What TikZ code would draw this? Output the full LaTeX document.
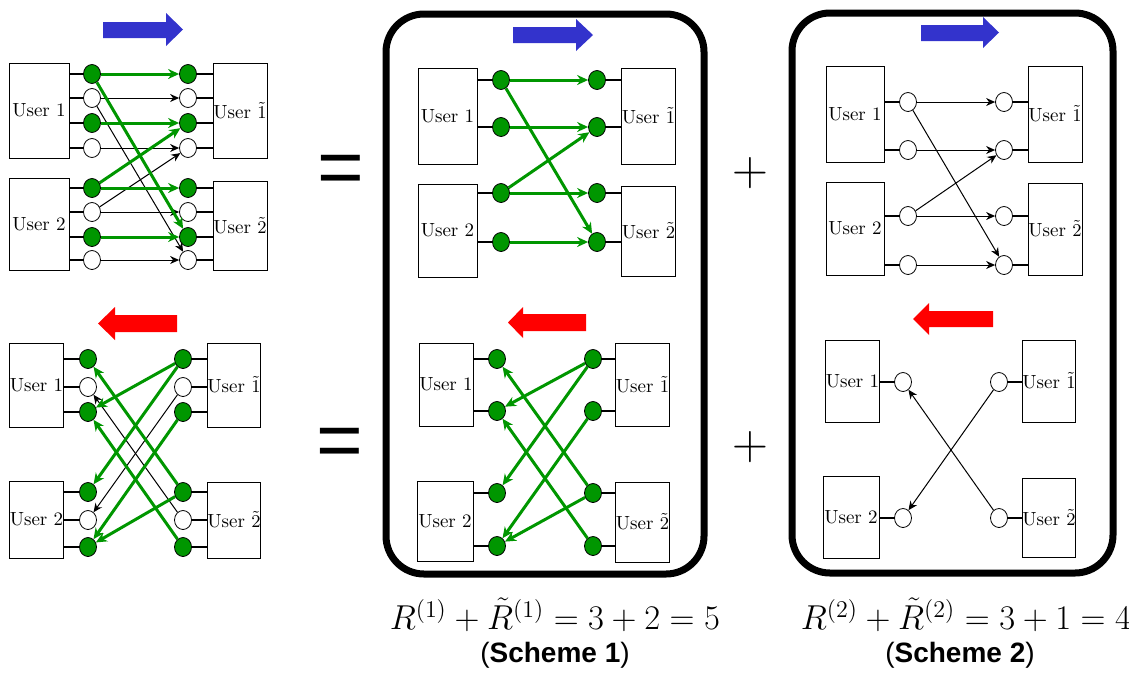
\documentclass[tikz,border=0pt]{standalone}
\usepackage{fontspec}
\newfontfamily\headfont{Liberation Sans}
\usetikzlibrary{shapes.geometric,arrows.meta}
\definecolor{grn}{RGB}{0,150,0}
\definecolor{fwdblue}{RGB}{51,51,204}
\definecolor{bwdred}{RGB}{255,0,0}
\tikzset{
  ubox/.style={draw, line width=0.5pt, inner sep=0pt, font=\fontsize{9.5}{11}\selectfont},
  gdot/.style={ellipse, draw, fill=grn, line width=0.4pt, minimum width=8.5pt, minimum height=9.5pt, inner sep=0pt},
  wdot/.style={gdot, fill=white},
  stub/.style={line width=1.2pt},
  garrow/.style={draw=grn, line width=1.5pt, -{Stealth[length=5.5pt,width=5pt]}},
  karrow/.style={line width=0.5pt, -{Stealth[length=4.5pt,width=4pt]}},
  scheme/.style={rounded corners=19pt, line width=3.5pt},
  bigsign/.style={inner sep=0pt},
  rate/.style={inner sep=0pt, font=\fontsize{17}{20}\selectfont},
  schemename/.style={inner sep=0pt, font=\headfont\fontsize{14}{16}\selectfont}
}
\begin{document}
\begin{tikzpicture}[x=0.5pt,y=-0.5pt]
\useasboundingbox (0,0) rectangle (1129,676);

% ---- all links, forward
\fill[fwdblue] (103,22) -- (166,22) -- (166,13) -- (183,29.5) -- (166,46) -- (166,38) -- (103,38) -- cycle;
\node[ubox, minimum width=30pt, minimum height=47.5pt] (a-u1) at (39,110.5) {User 1};
\node[ubox, minimum width=27pt, minimum height=47.5pt] (a-ut1) at (240,110.5) {User $\tilde{1}$};
\node[ubox, minimum width=30pt, minimum height=46pt] (a-u2) at (39,224) {User 2};
\node[ubox, minimum width=27pt, minimum height=44.5pt] (a-ut2) at (240,225.5) {User $\tilde{2}$};
\foreach \i/\y/\s in {1/74/gdot,2/98/wdot,3/123/gdot,4/148/wdot,5/188/gdot,6/212/wdot,7/237/gdot,8/260/wdot}{
  \node[\s] (a-l\i) at (92,\y) {};
  \node[\s] (a-r\i) at (188,\y) {};
}
\foreach \i in {1,...,4}{
  \draw[stub] (a-l\i) -- (a-l\i -| a-u1.east);
  \draw[stub] (a-r\i) -- (a-r\i -| a-ut1.west);
}
\foreach \i in {5,...,8}{
  \draw[stub] (a-l\i) -- (a-l\i -| a-u2.east);
  \draw[stub] (a-r\i) -- (a-r\i -| a-ut2.west);
}
\draw[karrow] (a-l2) -- (a-r2);
\draw[karrow] (a-l2) -- (a-r8);
\draw[karrow] (a-l4) -- (a-r4);
\draw[karrow] (a-l6) -- (a-r6);
\draw[karrow] (a-l6) -- (a-r4);
\draw[karrow] (a-l8) -- (a-r8);
\draw[garrow] (a-l1) -- (a-r1);
\draw[garrow] (a-l1) -- (a-r7);
\draw[garrow] (a-l3) -- (a-r3);
\draw[garrow] (a-l5) -- (a-r5);
\draw[garrow] (a-l5) -- (a-r3);
\draw[garrow] (a-l7) -- (a-r7);

% ---- all links, backward
\fill[bwdred] (177,315) -- (115,315) -- (115,307) -- (98,323.5) -- (115,340) -- (115,332) -- (177,332) -- cycle;
\node[ubox, minimum width=26.5pt, minimum height=42pt] (b-u1) at (36.5,385) {User 1};
\node[ubox, minimum width=26pt, minimum height=42pt] (b-ut1) at (234,385) {User $\tilde{1}$};
\node[ubox, minimum width=26.5pt, minimum height=38.5pt] (b-u2) at (36.5,519.5) {User 2};
\node[ubox, minimum width=26pt, minimum height=38pt] (b-ut2) at (234,520) {User $\tilde{2}$};
\foreach \i/\y/\s in {1/359/gdot,2/387/wdot,3/412/gdot,4/492/gdot,5/520/wdot,6/547/gdot}{
  \node[\s] (b-l\i) at (88,\y) {};
  \node[\s] (b-r\i) at (183,\y) {};
}
\foreach \i in {1,...,3}{
  \draw[stub] (b-l\i) -- (b-l\i -| b-u1.east);
  \draw[stub] (b-r\i) -- (b-r\i -| b-ut1.west);
}
\foreach \i in {4,...,6}{
  \draw[stub] (b-l\i) -- (b-l\i -| b-u2.east);
  \draw[stub] (b-r\i) -- (b-r\i -| b-ut2.west);
}
\draw[karrow] (b-r2) -- (b-l5);
\draw[karrow] (b-r5) -- (b-l2);
\draw[garrow] (b-r1) -- (b-l3);
\draw[garrow] (b-r1) -- (b-l4);
\draw[garrow] (b-r3) -- (b-l6);
\draw[garrow] (b-r4) -- (b-l1);
\draw[garrow] (b-r4) -- (b-l6);
\draw[garrow] (b-r6) -- (b-l3);

% ---- scheme 1
\draw[scheme] (386,14) rectangle (704,574);
\fill[fwdblue] (513,27) -- (576,27) -- (576,19) -- (593,35) -- (576,51) -- (576,43) -- (513,43) -- cycle;
\node[ubox, minimum width=29.5pt, minimum height=48pt] (c-u1) at (447.5,116) {User 1};
\node[ubox, minimum width=26.5pt, minimum height=48pt] (c-ut1) at (648.5,116) {User $\tilde{1}$};
\node[ubox, minimum width=29.5pt, minimum height=46.5pt] (c-u2) at (447.5,230.5) {User 2};
\node[ubox, minimum width=26.5pt, minimum height=45pt] (c-ut2) at (648.5,231) {User $\tilde{2}$};
\foreach \i/\y in {1/80,2/127,3/193,4/242}{
  \node[gdot] (c-l\i) at (501,\y) {};
  \node[gdot] (c-r\i) at (597,\y) {};
}
\foreach \i/\u in {1/1,2/1,3/2,4/2}{
  \draw[stub] (c-l\i) -- (c-l\i -| c-u\u.east);
  \draw[stub] (c-r\i) -- (c-r\i -| c-ut\u.west);
}
\draw[garrow] (c-l1) -- (c-r1);
\draw[garrow] (c-l1) -- (c-r4);
\draw[garrow] (c-l2) -- (c-r2);
\draw[garrow] (c-l3) -- (c-r2);
\draw[garrow] (c-l3) -- (c-r3);
\draw[garrow] (c-l4) -- (c-r4);

\fill[bwdred] (586,314) -- (523,314) -- (523,307) -- (508,322.5) -- (523,338) -- (523,331) -- (586,331) -- cycle;
\node[ubox, minimum width=27pt, minimum height=41.5pt] (d-u1) at (446,384.5) {User 1};
\node[ubox, minimum width=25.5pt, minimum height=41.5pt] (d-ut1) at (642.5,384.5) {User $\tilde{1}$};
\node[ubox, minimum width=28pt, minimum height=40pt] (d-u2) at (445,521) {User 2};
\node[ubox, minimum width=25.5pt, minimum height=40pt] (d-ut2) at (642.5,522) {User $\tilde{2}$};
\foreach \i/\y in {1/359,2/411,3/493,4/546}{
  \node[gdot] (d-l\i) at (497,\y) {};
  \node[gdot] (d-r\i) at (593,\y) {};
}
\foreach \i/\u in {1/1,2/1,3/2,4/2}{
  \draw[stub] (d-l\i) -- (d-l\i -| d-u\u.east);
  \draw[stub] (d-r\i) -- (d-r\i -| d-ut\u.west);
}
\draw[garrow] (d-r1) -- (d-l2);
\draw[garrow] (d-r1) -- (d-l3);
\draw[garrow] (d-r2) -- (d-l4);
\draw[garrow] (d-r3) -- (d-l1);
\draw[garrow] (d-r3) -- (d-l4);
\draw[garrow] (d-r4) -- (d-l2);

% ---- scheme 2
\draw[scheme] (792,13) rectangle (1113,573);
\fill[fwdblue] (921,25) -- (983,25) -- (983,17) -- (999,32.5) -- (983,48) -- (983,41) -- (921,41) -- cycle;
\node[ubox, minimum width=29pt, minimum height=48pt] (e-u1) at (855,114) {User 1};
\node[ubox, minimum width=27pt, minimum height=48pt] (e-ut1) at (1055,114) {User $\tilde{1}$};
\node[ubox, minimum width=29pt, minimum height=46.5pt] (e-u2) at (855,228.5) {User 2};
\node[ubox, minimum width=27pt, minimum height=46pt] (e-ut2) at (1055,229) {User $\tilde{2}$};
\foreach \i/\y in {1/102,2/150,3/216,4/265}{
  \node[wdot] (e-l\i) at (908,\y) {};
  \node[wdot] (e-r\i) at (1004,\y) {};
}
\foreach \i/\u in {1/1,2/1,3/2,4/2}{
  \draw[stub] (e-l\i) -- (e-l\i -| e-u\u.east);
  \draw[stub] (e-r\i) -- (e-r\i -| e-ut\u.west);
}
\draw[karrow] (e-l1) -- (e-r1);
\draw[karrow] (e-l1) -- (e-r4);
\draw[karrow] (e-l2) -- (e-r2);
\draw[karrow] (e-l3) -- (e-r2);
\draw[karrow] (e-l3) -- (e-r3);
\draw[karrow] (e-l4) -- (e-r4);

\fill[bwdred] (993,311) -- (929,311) -- (929,303) -- (913,319) -- (929,335) -- (929,327) -- (993,327) -- cycle;
\node[ubox, minimum width=26.5pt, minimum height=41pt] (f-u1) at (852.5,381) {User 1};
\node[ubox, minimum width=26pt, minimum height=41pt] (f-ut1) at (1049,381) {User $\tilde{1}$};
\node[ubox, minimum width=28pt, minimum height=41pt] (f-u2) at (851,517) {User 2};
\node[ubox, minimum width=26pt, minimum height=39.5pt] (f-ut2) at (1049,517.5) {User $\tilde{2}$};
\node[wdot] (f-l1) at (903,382) {};
\node[wdot] (f-r1) at (999,382) {};
\node[wdot] (f-l2) at (903,518) {};
\node[wdot] (f-r2) at (999,518) {};
\foreach \i in {1,2}{
  \draw[stub] (f-l\i) -- (f-l\i -| f-u\i.east);
  \draw[stub] (f-r\i) -- (f-r\i -| f-ut\i.west);
}
\draw[karrow] (f-r1) -- (f-l2);
\draw[karrow] (f-r2) -- (f-l1);

% ---- signs and rates
\node[bigsign, font=\headfont\fontsize{40}{40}\selectfont] (eq1) at (341,174.5) {=};
\node[bigsign, font=\headfont\fontsize{40}{40}\selectfont] (eq2) at (340,448) {=};
\node[bigsign, font=\fontsize{31}{31}\selectfont] (pl1) at (750,173.5) {$+$};
\node[bigsign, font=\fontsize{31}{31}\selectfont] (pl2) at (750,447.5) {$+$};

\node[rate] (rate1) at (555,615) {$R^{(1)}+\tilde{R}^{(1)}=3+2=5$};
\node[rate] (rate2) at (966,615) {$R^{(2)}+\tilde{R}^{(2)}=3+1=4$};
\node[schemename] (name1) at (555,655) {({\bfseries Scheme 1})};
\node[schemename] (name2) at (960,655) {({\bfseries Scheme 2})};
\end{tikzpicture}
\end{document}
